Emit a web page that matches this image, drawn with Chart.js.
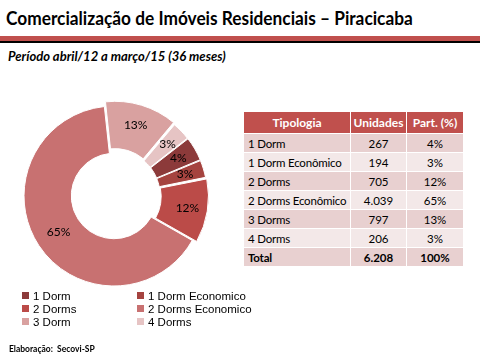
<!DOCTYPE html>
<html>
<head>
<meta charset="utf-8">
<script src="https://cdn.jsdelivr.net/npm/chart.js@4/dist/chart.umd.min.js"></script>
<style>
  body { margin: 0; width: 480px; height: 360px; background: #fff; position: relative; overflow: hidden; font-family: Lato, "Open Sans", sans-serif; }
  #titulo { position: absolute; left: 6px; top: 7px; font-weight: bold; font-size: 18px; color: #000; white-space: nowrap; transform: scaleX(0.96); transform-origin: left top; }
  #linha-vermelha { position: absolute; left: 0; top: 36px; width: 480px; height: 5px; background: #c0504d; }
  #linha-preta { position: absolute; left: 0; top: 41px; width: 480px; height: 2px; background: #000; }
  #periodo { position: absolute; left: 8px; top: 48px; font-style: italic; font-weight: bold; font-size: 13px; white-space: nowrap; }
  #caixa-grafico { position: absolute; left: 4px; top: 91px; width: 220px; height: 210px; }
  #tabela { position: absolute; left: 243px; top: 111px; border-collapse: collapse; font-size: 11.5px; table-layout: fixed; }
  #tabela td, #tabela th { border: 1px solid #fff; padding: 0; height: 18px; white-space: nowrap; overflow: hidden; }
  #tabela th { background: #c0504d; color: #fff; font-weight: bold; font-size: 12px; height: 21px; text-align: center; }
  #tabela tr.escuro td { background: #e8d0d0; }
  #tabela tr.claro td { background: #f3e8e8; }
  #tabela td.nome { text-align: left; padding-left: 4px; letter-spacing: -0.2px; }
  #tabela td.num { text-align: center; }
  #tabela tr.total td { font-weight: bold; }
  #legenda { position: absolute; left: 22px; top: 289px; display: grid; grid-template-columns: 115px 140px; grid-auto-rows: 13px; font-family: "Liberation Sans", Arial, sans-serif; font-size: 11.5px; }
  #legenda .item { display: flex; align-items: center; white-space: nowrap; }
  #legenda .caixa { width: 7px; height: 7px; margin-right: 4px; }
  #rodape { position: absolute; left: 9px; top: 344px; font-size: 8.5px; font-weight: bold; white-space: pre; }
</style>
</head>
<body>
<div id="titulo">Comercialização de Imóveis Residenciais – Piracicaba</div>
<div id="linha-vermelha"></div>
<div id="linha-preta"></div>
<div id="periodo">Período abril/12 a março/15 (36 meses)</div>
<div id="caixa-grafico"><canvas id="grafico" width="220" height="210"></canvas></div>
<table id="tabela"></table>
<div id="legenda"></div>
<div id="rodape">Elaboração:  Secovi-SP</div>
<script>
var tipologias = ['1 Dorm', '1 Dorm Econômico', '2 Dorms', '2 Dorms Econômico', '3 Dorms', '4 Dorms'];
var nomesLegenda = ['1 Dorm', '1 Dorm Economico', '2 Dorms', '2 Dorms Economico', '3 Dorm', '4 Dorms'];
var unidades = [267, 194, 705, 4039, 797, 206];
var participacao = [4, 3, 12, 65, 13, 3];
var cores = ['#8c3a3a', '#a5433f', '#bb4b48', '#c87171', '#d9a1a0', '#e6c4c4'];
var destacado = [true, true, true, false, true, true];
var deslocamento = 8;

function milhar(n) {
    return String(n).replace(/\B(?=(\d{3})+(?!\d))/g, '.');
}

function montarTabela() {
    var html = '<colgroup><col style="width:107px"><col style="width:56px"><col style="width:57px"></colgroup>';
    html += '<tr><th>Tipologia</th><th>Unidades</th><th>Part. (%)</th></tr>';
    var total = 0;
    for (let i = 0; i < tipologias.length; i++) {
        total += unidades[i];
        html += '<tr class="' + (i % 2 == 0 ? 'escuro' : 'claro') + '"><td class="nome">' + tipologias[i] +
            '</td><td class="num">' + milhar(unidades[i]) + '</td><td class="num">' + participacao[i] + '%</td></tr>';
    }
    html += '<tr class="escuro total"><td class="nome">Total</td><td class="num">' + milhar(total) + '</td><td class="num">100%</td></tr>';
    document.getElementById('tabela').innerHTML = html;
}

function montarLegenda() {
    var html = '';
    nomesLegenda.forEach(function (nome, i) {
        html += '<div class="item"><span class="caixa" style="background:' + cores[i] + '"></span>' + nome + '</div>';
    });
    document.getElementById('legenda').innerHTML = html;
}

// offset real de cada fatia (chart.js v4 divide o offset e soma no raio)
function offsetFatia(i) {
    if (!destacado[i]) return 0;
    var total = unidades.reduce(function (a, b) { return a + b; }, 0);
    var circ = unidades[i] / total * 2 * Math.PI;
    var fix = 1 - Math.sin(Math.min(Math.PI, circ));
    return deslocamento / (0.25 + fix);
}

var rotulos = {
    id: 'rotulos',
    afterDatasetsDraw: function (chart) {
        var ctx = chart.ctx;
        var meta = chart.getDatasetMeta(0);
        ctx.save();
        ctx.font = '12px Lato, sans-serif';
        ctx.fillStyle = '#000';
        ctx.textAlign = 'center';
        ctx.textBaseline = 'middle';
        meta.data.forEach(function (arco, i) {
            var p = arco.getProps(['x', 'y', 'startAngle', 'endAngle', 'innerRadius', 'outerRadius']);
            var meio = (p.startAngle + p.endAngle) / 2;
            var r = (p.innerRadius + p.outerRadius) / 2 + (destacado[i] ? deslocamento : 0);
            ctx.fillText(participacao[i] + '%', p.x + Math.cos(meio) * r, p.y + Math.sin(meio) * r);
        });
        ctx.restore();
    }
};

montarTabela();
montarLegenda();

var ctx = document.getElementById('grafico').getContext('2d');
var grafico = new Chart(ctx, {
    type: 'doughnut',
    data: {
        labels: nomesLegenda,
        datasets: [{
            data: unidades,
            backgroundColor: cores,
            borderColor: '#ffffff',
            borderWidth: 1,
            offset: unidades.map(function (v, i) { return offsetFatia(i); })
        }]
    },
    options: {
        responsive: false,
        animation: false,
        radius: 90,
        cutout: 46,
        rotation: 52,
        layout: { padding: 0 },
        plugins: {
            legend: { display: false },
            tooltip: { enabled: false }
        }
    },
    plugins: [rotulos]
});
</script>
</body>
</html>
